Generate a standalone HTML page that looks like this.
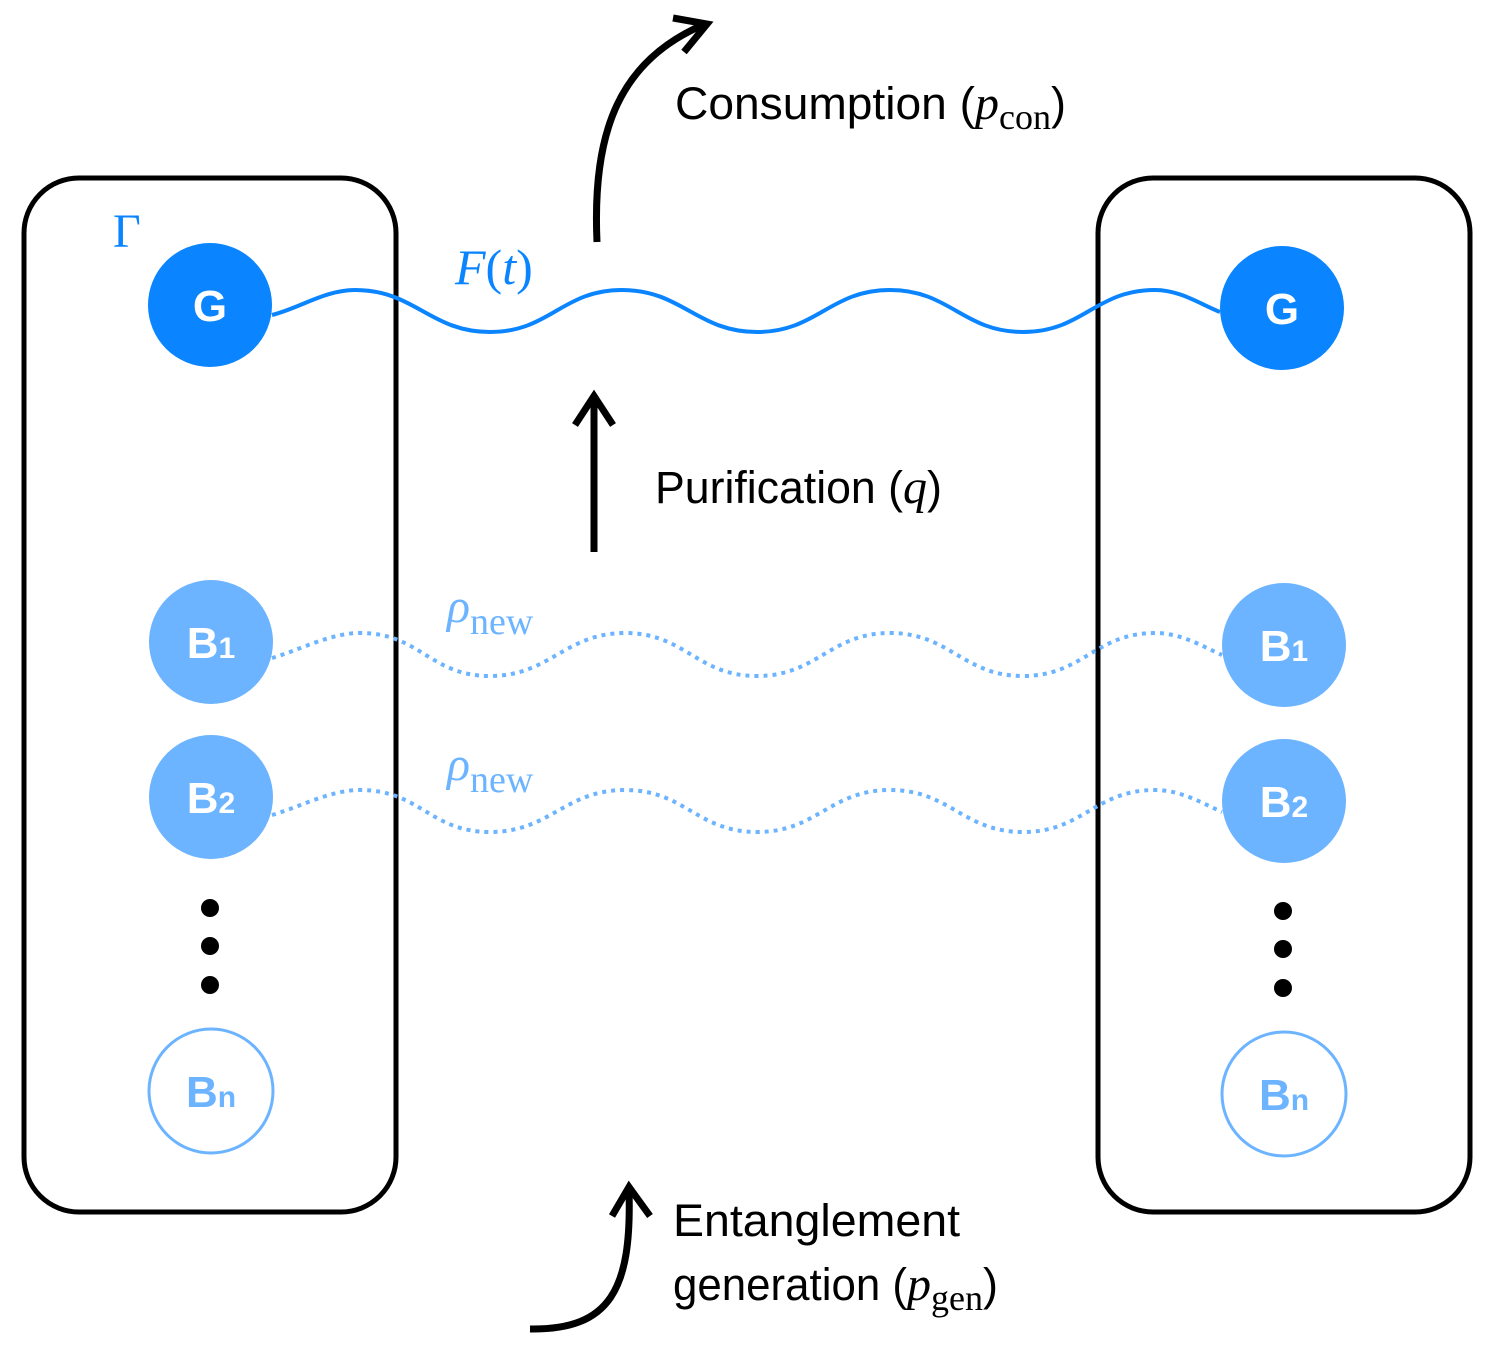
<!DOCTYPE html>
<html><head><meta charset="utf-8"><style>body{margin:0;background:#fff}svg{display:block}</style></head><body>
<svg width="1494" height="1351" viewBox="0 0 1494 1351" xmlns="http://www.w3.org/2000/svg">
<rect x="24" y="178" width="372" height="1034" rx="55" fill="none" stroke="#000" stroke-width="5"/>
<rect x="1098" y="178" width="372" height="1034" rx="55" fill="none" stroke="#000" stroke-width="5"/>
<g fill="none" stroke-width="4">
<path stroke="#0a84ff" d="M272 315 C300 308 325 290 355 290 C415 290 430 332 490 332 C550 332 562 290 622 290 C682 290 697 332 757 332 C817 332 830 290 890 290 C950 290 963 332 1023 332 C1083 332 1095 290 1155 290 C1180 290 1200 304 1220 312"/>
<path stroke="#6cb4ff" stroke-dasharray="4 5" d="M272 658 C300 650 330 633 360 633 C420 633 430 676 490 676 C550 676 565 633 625 633 C685 633 697 676 757 676 C817 676 830 633 890 633 C950 633 963 676 1023 676 C1083 676 1095 633 1155 633 C1180 633 1200 645 1222 655"/>
<path stroke="#6cb4ff" stroke-dasharray="4 5" d="M272 815 C300 807 330 790 360 790 C420 790 430 832 490 832 C550 832 565 790 625 790 C685 790 697 832 757 832 C817 832 830 790 890 790 C950 790 963 832 1023 832 C1083 832 1095 790 1155 790 C1180 790 1200 802 1222 812"/>
</g>
<g font-family="Liberation Sans, sans-serif" font-weight="bold" font-size="44" text-anchor="middle" fill="#fff">
<circle cx="210" cy="305" r="62" fill="#0a84ff"/><text x="210" y="321">G</text>
<circle cx="1282" cy="308" r="62" fill="#0a84ff"/><text x="1282" y="324">G</text>
<circle cx="211" cy="642" r="62" fill="#6cb4ff"/><text x="211" y="658">B<tspan font-size="30">1</tspan></text>
<circle cx="1284" cy="645" r="62" fill="#6cb4ff"/><text x="1284" y="661">B<tspan font-size="30">1</tspan></text>
<circle cx="211" cy="797" r="62" fill="#6cb4ff"/><text x="211" y="813">B<tspan font-size="30">2</tspan></text>
<circle cx="1284" cy="801" r="62" fill="#6cb4ff"/><text x="1284" y="817">B<tspan font-size="30">2</tspan></text>
<circle cx="211" cy="1091" r="62" fill="none" stroke="#6cb4ff" stroke-width="3"/><text x="211" y="1107" fill="#6cb4ff">B<tspan font-size="30">n</tspan></text>
<circle cx="1284" cy="1094" r="62" fill="none" stroke="#6cb4ff" stroke-width="3"/><text x="1284" y="1110" fill="#6cb4ff">B<tspan font-size="30">n</tspan></text>
</g>
<g fill="#000">
<circle cx="210" cy="908" r="9"/><circle cx="210" cy="946" r="9"/><circle cx="210" cy="985" r="9"/>
<circle cx="1283" cy="911" r="9"/><circle cx="1283" cy="949" r="9"/><circle cx="1283" cy="988" r="9"/>
</g>
<g fill="none" stroke="#000" stroke-width="7">
<path d="M597 242 C592 130 620 60 705 24"/>
<path d="M673 18 L707 24 L684 52" stroke-linejoin="miter"/>
<path d="M594 552 L594 398"/>
<path d="M575 425 L594 396 L613 425"/>
<path d="M530 1329 C610 1330 632 1290 629 1190"/>
<path d="M612 1216 L629 1187 L650 1216"/>
</g>
<g font-family="Liberation Sans, sans-serif" font-size="45" fill="#000">
<text x="675" y="119" textLength="300" lengthAdjust="spacingAndGlyphs">Consumption (</text>
<text x="975" y="119"><tspan font-family="Liberation Serif, serif" font-style="italic" font-size="48">p</tspan><tspan font-family="Liberation Serif, serif" font-size="36" dy="10">con</tspan><tspan dy="-10">)</tspan></text>
<text x="655" y="503" textLength="248" lengthAdjust="spacingAndGlyphs">Purification (</text>
<text x="903" y="503"><tspan font-family="Liberation Serif, serif" font-style="italic" font-size="48">q</tspan>)</text>
<text x="673" y="1236" textLength="287" lengthAdjust="spacingAndGlyphs">Entanglement</text>
<text x="673" y="1300" textLength="234" lengthAdjust="spacingAndGlyphs">generation (</text>
<text x="907" y="1300"><tspan font-family="Liberation Serif, serif" font-style="italic" font-size="48">p</tspan><tspan font-family="Liberation Serif, serif" font-size="36" dy="10">gen</tspan><tspan dy="-10">)</tspan></text>
</g>
<g font-family="Liberation Serif, serif" fill="#0a84ff">
<text x="113" y="247" font-size="48">Γ</text>
<text x="455" y="284" font-size="50" font-style="italic">F<tspan font-style="normal">(</tspan>t<tspan font-style="normal">)</tspan></text>
</g>
<g font-family="Liberation Serif, serif" fill="#6cb4ff">
<text x="447" y="622" font-size="48" font-style="italic">ρ<tspan font-style="normal" font-size="38" dy="12">new</tspan></text>
<text x="447" y="780" font-size="48" font-style="italic">ρ<tspan font-style="normal" font-size="38" dy="12">new</tspan></text>
</g>
</svg>
</body></html>
